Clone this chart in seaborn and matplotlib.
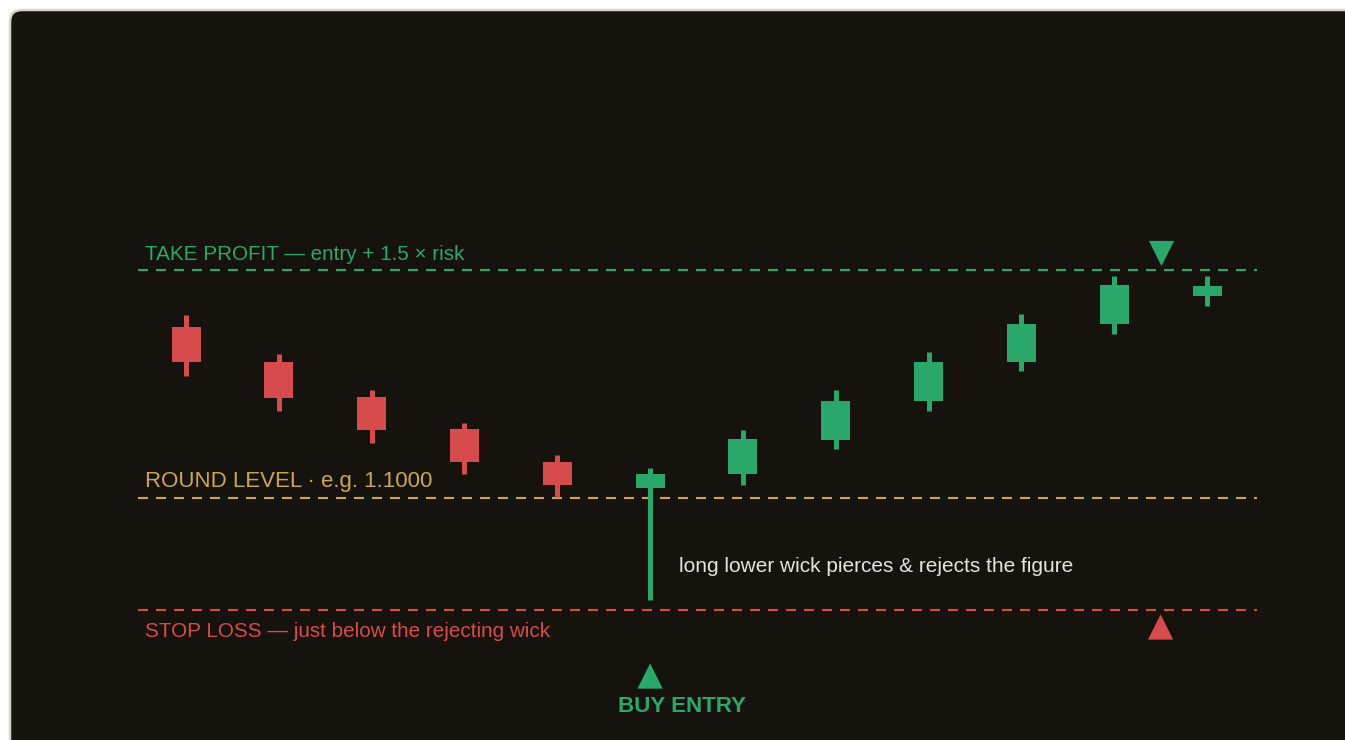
import numpy as np
import pandas as pd
import matplotlib
matplotlib.use("Agg")
import matplotlib.pyplot as plt
from matplotlib.patches import FancyBboxPatch
import seaborn as sns

# ---- data (prices) ----
candle_idx = list(range(12))
opens  = [1.10153, 1.10121, 1.10090, 1.10062, 1.10032, 1.10009, 1.10021, 1.10052, 1.10087, 1.10121, 1.10155, 1.10180]
highs  = [1.10163, 1.10129, 1.10096, 1.10067, 1.10038, 1.10027, 1.10061, 1.10096, 1.10130, 1.10164, 1.10198, 1.10198]
lows   = [1.10109, 1.10078, 1.10049, 1.10021, 1.10001, 1.09909, 1.10012, 1.10044, 1.10078, 1.10113, 1.10146, 1.10171]
closes = [1.10121, 1.10089, 1.10061, 1.10032, 1.10012, 1.10021, 1.10053, 1.10087, 1.10121, 1.10155, 1.10190, 1.10189]

round_level = 1.10000
stop_loss = 1.09900
take_profit = 1.10204
entry_idx = 5
exit_idx = 10.5

tp_label = "TAKE PROFIT — entry + 1.5 × risk"
round_label = "ROUND LEVEL · e.g. 1.1000"
sl_label = "STOP LOSS — just below the rejecting wick"
wick_note = "long lower wick pierces & rejects the figure"
entry_label = "BUY ENTRY"

df = pd.DataFrame({"i": candle_idx, "open": opens, "high": highs, "low": lows, "close": closes})
df["bull"] = df["close"] >= df["open"]

# ---- style ----
BG = "#16130f"
GREEN = "#2aa86b"
RED = "#d64b4b"
GOLD = "#c9a94a"
NOTE = "#e8e4dc"

sns.set_theme(style="dark")
plt.rcParams["font.family"] = ["Liberation Sans", "DejaVu Sans"]

W, H = 1345, 740
fig = plt.figure(figsize=(W / 100, H / 100), dpi=100)
fig.patch.set_facecolor("white")

# background panel in pixel coordinates
bg = fig.add_axes([0, 0, 1, 1])
bg.set_xlim(0, W)
bg.set_ylim(H, 0)
bg.axis("off")
panel = FancyBboxPatch((10, 10), W + 40, H + 40,
                       boxstyle="round,pad=0,rounding_size=12",
                       facecolor=BG, edgecolor="#d9d5cd", linewidth=1.8)
bg.add_patch(panel)

# main axes
ax = fig.add_axes([0, 0, 1, 1])
ax.patch.set_alpha(0)
px_x = 92.82          # pixels per candle
x0_px = 186
pip_px = 11.2 / 0.0001

# levels
x_left, x_right = -0.517, 11.538
dash = (0, (4.8, 3.84))
for lvl, col in [(take_profit, GREEN), (round_level, GOLD), (stop_loss, RED)]:
    ax.hlines(lvl, x_left, x_right, colors=col, linewidth=1.5, linestyles=[dash], zorder=2)

# candles
body_w = 29 / px_x
for _, r in df.iterrows():
    col = GREEN if r["bull"] else RED
    ax.vlines(r["i"], r["low"], r["high"], colors=col, linewidth=3.6, zorder=3, capstyle="butt")
    lo, hi = min(r["open"], r["close"]), max(r["open"], r["close"])
    ax.bar(r["i"], hi - lo, bottom=lo, width=body_w, color=col, linewidth=0, zorder=4)

# markers
mk = pd.DataFrame({
    "x": [exit_idx, exit_idx, entry_idx],
    "y": [take_profit + 17 / pip_px, stop_loss - 17 / pip_px, stop_loss - 66 / pip_px],
    "kind": ["tp", "sl", "buy"],
})
sns.scatterplot(data=mk[mk.kind == "tp"], x="x", y="y", marker="v", s=330, color=GREEN,
                linewidth=0, ax=ax, legend=False, zorder=5)
sns.scatterplot(data=mk[mk.kind != "tp"], x="x", y="y", marker="^", s=330,
                hue="kind", palette={"sl": RED, "buy": GREEN},
                linewidth=0, ax=ax, legend=False, zorder=5)
ax.axis("off")
ax.set_xlim(-x0_px / px_x, (W - x0_px) / px_x)
ax.set_ylim(round_level - (H - 498) / pip_px, round_level + 498 / pip_px)

# texts
lx = -0.4417
ax.text(lx, take_profit + 10 / pip_px, tp_label, color=GREEN, fontsize=14.9, va="baseline", ha="left")
ax.text(lx, round_level + 11 / pip_px, round_label, color=GOLD, fontsize=16, va="baseline", ha="left")
ax.text(lx, stop_loss - 27 / pip_px, sl_label, color=RED, fontsize=14.9, va="baseline", ha="left")
ax.text(entry_idx + 29 / px_x, round_level - 68 / pip_px, wick_note, color=NOTE, fontsize=15,
        va="center", ha="left")
ax.text(entry_idx + 32 / px_x, stop_loss - 102 / pip_px, entry_label, color=GREEN, fontsize=16.1,
        fontweight="bold", va="baseline", ha="center")

fig.savefig("out.png", dpi=100, facecolor=fig.get_facecolor())
